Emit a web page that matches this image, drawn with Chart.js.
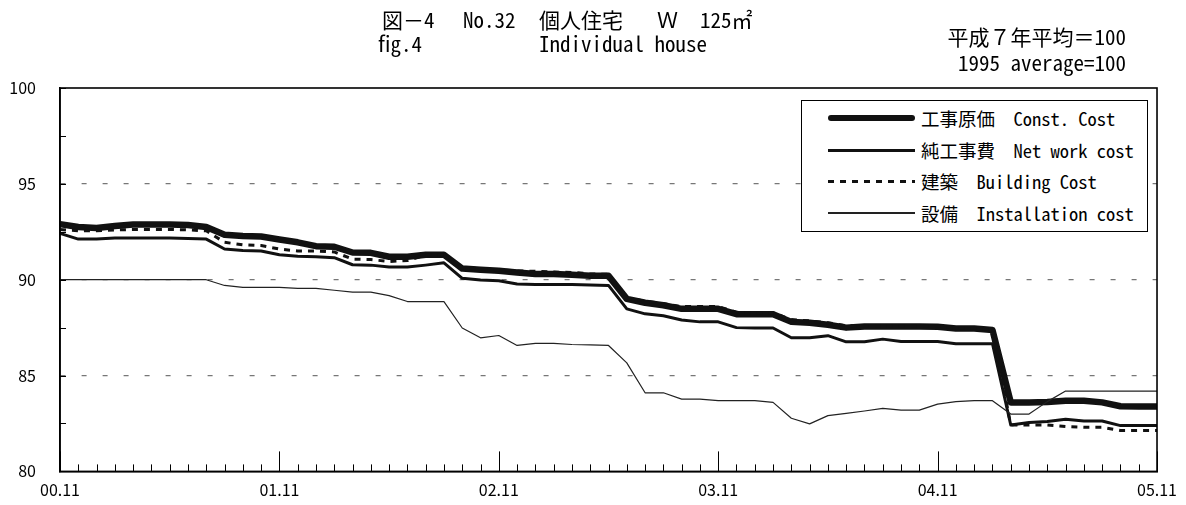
<!DOCTYPE html>
<html>
<head>
<meta charset="utf-8">
<script src="https://cdn.jsdelivr.net/npm/chart.js@4.4.1/dist/chart.umd.min.js"></script>
<style>
html,body{margin:0;padding:0;background:#fff;}
#wrap{position:relative;width:1186px;height:505px;overflow:hidden;background:#fff;}
#c{position:absolute;left:0;top:0;}
.t{position:absolute;font-family:"Noto Sans CJK JP",sans-serif;color:#000;white-space:pre;line-height:1;font-size:21px;}
.h{font-feature-settings:"hwid";}
#legend{position:absolute;left:801px;top:100px;width:347px;height:132px;border:1.5px solid #000;background:#fff;box-sizing:border-box;}
.row{position:absolute;left:0;height:20px;width:100%;}
.sample{position:absolute;left:26px;width:87px;top:50%;}
.ltxt{position:absolute;left:119px;top:50%;transform:translateY(-50%);font-family:"Noto Sans CJK JP",sans-serif;font-size:18.5px;line-height:1;white-space:pre;}
</style>
</head>
<body>
<div id="wrap">
<canvas id="c" width="1186" height="505"></canvas>
<div class="t" style="left:382px;top:9px;">図－<span class="h">4</span></div>
<div class="t h" style="left:463px;top:9px;">No.32</div>
<div class="t" style="left:539px;top:9px;">個人住宅</div>
<div class="t" style="left:657px;top:9px;">Ｗ</div>
<div class="t h" style="left:700px;top:9px;">125<span style="font-feature-settings:normal">㎡</span></div>
<div class="t h" style="left:378px;top:33px;">fig.4</div>
<div class="t h" style="left:539px;top:33px;">Individual house</div>
<div class="t" style="right:60px;top:26px;text-align:right;">平成７年平均＝<span class="h">100</span></div>
<div class="t h" style="right:60px;top:52px;text-align:right;">1995 average=100</div>
<div id="legend"></div>
</div>
<script>
// ---- data ----
const months = ['00.11','00.12','01.01','01.02','01.03','01.04','01.05','01.06','01.07','01.08','01.09','01.10',
  '01.11','01.12','02.01','02.02','02.03','02.04','02.05','02.06','02.07','02.08','02.09','02.10',
  '02.11','02.12','03.01','03.02','03.03','03.04','03.05','03.06','03.07','03.08','03.09','03.10',
  '03.11','03.12','04.01','04.02','04.03','04.04','04.05','04.06','04.07','04.08','04.09','04.10',
  '04.11','04.12','05.01','05.02','05.03','05.04','05.05','05.06','05.07','05.08','05.09','05.10','05.11'];
const tickLabels = ['00.11','01.11','02.11','03.11','04.11','05.11'];
const yTicks = [80, 85, 90, 95, 100];
const seriesNames = ['工事原価　Const. Cost','純工事費　Net work cost','建築　Building Cost','設備　Installation cost'];

const constCost = [92.9,92.75,92.7,92.8,92.88,92.88,92.88,92.85,92.75,92.35,92.28,92.25,
  92.1,91.95,91.75,91.72,91.42,91.4,91.2,91.2,91.3,91.3,90.58,90.52,
  90.47,90.38,90.3,90.3,90.26,90.2,90.2,89.0,88.8,88.67,88.48,88.48,
  88.48,88.2,88.2,88.2,87.8,87.75,87.65,87.5,87.56,87.56,87.56,87.56,
  87.55,87.45,87.45,87.38,83.6,83.6,83.62,83.69,83.69,83.6,83.4,83.38,83.38];
const netWorkCost = [92.42,92.12,92.12,92.18,92.18,92.18,92.18,92.15,92.12,91.6,91.52,91.5,
  91.3,91.22,91.2,91.15,90.78,90.76,90.66,90.66,90.76,90.88,90.07,89.98,
  89.95,89.78,89.75,89.75,89.75,89.72,89.7,88.48,88.22,88.12,87.9,87.8,
  87.8,87.5,87.48,87.48,86.97,86.97,87.08,86.76,86.76,86.9,86.78,86.78,
  86.78,86.66,86.66,86.66,82.42,82.55,82.6,82.72,82.63,82.63,82.39,82.39,82.39];
const buildingCost = [92.62,92.55,92.55,92.6,92.62,92.62,92.62,92.6,92.55,91.95,91.82,91.78,
  91.6,91.5,91.5,91.45,91.07,91.05,90.95,91.0,91.28,91.3,90.62,90.58,
  90.52,90.46,90.44,90.4,90.38,90.3,90.28,89.05,88.88,88.75,88.6,88.6,
  88.6,88.3,88.28,88.28,87.92,87.85,87.75,87.6,87.6,87.6,87.58,87.58,
  87.58,87.48,87.48,87.4,82.42,82.42,82.42,82.34,82.3,82.3,82.13,82.13,82.13];
const installationCost = [90.0,90.0,90.0,90.0,90.0,90.0,90.0,90.0,90.0,89.7,89.6,89.6,
  89.6,89.55,89.55,89.45,89.35,89.35,89.17,88.86,88.86,88.86,87.48,86.97,
  87.09,86.57,86.68,86.68,86.62,86.6,86.57,85.66,84.1,84.1,83.77,83.77,
  83.69,83.69,83.69,83.6,82.77,82.48,82.91,83.03,83.15,83.29,83.2,83.2,
  83.51,83.64,83.69,83.69,82.99,82.99,83.64,84.19,84.19,84.19,84.19,84.19,84.19];

// ---- styles ----
const styles = [
  {w:6.5, dash:[], order:4, color:'#111'},
  {w:3, dash:[], order:3, color:'#111'},
  {w:3, dash:[6,6], order:2, color:'#111'},
  {w:1.2, dash:[], order:1, color:'#222'}
];
const seriesData = [constCost, netWorkCost, buildingCost, installationCost];

const frame = {
  id: 'frame',
  afterDraw(chart) {
    const {ctx, chartArea: a, scales: {x, y}} = chart;
    ctx.save();
    ctx.strokeStyle = '#000';
    ctx.lineWidth = 1;
    ctx.beginPath();
    for (let i = 0; i < months.length; i++) {
      const px = Math.round(x.getPixelForValue(i)) + 0.5;
      const len = tickLabels.includes(months[i]) ? 20 : 7;
      ctx.moveTo(px, a.bottom);
      ctx.lineTo(px, a.bottom - len);
    }
    for (let v = y.min; v <= y.max; v += 2.5) {
      const py = Math.round(y.getPixelForValue(v)) + 0.5;
      ctx.moveTo(a.left, py);
      ctx.lineTo(a.left + 6, py);
    }
    ctx.stroke();
    ctx.lineWidth = 1.6;
    ctx.strokeRect(a.left, a.top, a.right - a.left, a.bottom - a.top);
    ctx.restore();
  }
};

Chart.defaults.font.family = '"Noto Sans CJK JP", sans-serif';
Chart.defaults.color = '#000';

new Chart(document.getElementById('c'), {
  type: 'line',
  data: {
    labels: months,
    datasets: seriesData.map((d, k) => ({
      label: seriesNames[k],
      data: d,
      borderColor: styles[k].color,
      borderWidth: styles[k].w,
      borderDash: styles[k].dash,
      order: styles[k].order,
      pointRadius: 0,
      tension: 0,
      fill: false,
      borderJoinStyle: 'round',
      borderCapStyle: 'butt'
    }))
  },
  options: {
    responsive: false,
    animation: false,
    devicePixelRatio: 1,
    layout: {padding: {top: 88, right: 23, left: 0, bottom: 0}},
    plugins: {legend: {display: false}, tooltip: {enabled: false}, title: {display: false}},
    scales: {
      x: {
        type: 'category',
        offset: false,
        grid: {display: false, drawTicks: false},
        border: {display: true, color: '#000', width: 1.6},
        ticks: {
          autoSkip: false, maxRotation: 0, minRotation: 0, padding: 9,
          font: {size: 16},
          callback: function(v) { const l = this.getLabelForValue(v); return tickLabels.includes(l) ? l : ''; }
        },
        afterFit: s => { s.height = 32; }
      },
      y: {
        min: 80, max: 100,
        grid: {
          drawTicks: false,
          color: c => (c.tick && (c.tick.value === 80 || c.tick.value === 100)) ? 'rgba(0,0,0,0)' : '#777',
          lineWidth: 1.2
        },
        border: {display: true, color: '#000', width: 1.6, dash: [5, 16]},
        afterBuildTicks: s => { s.ticks = yTicks.map(v => ({value: v})); },
        ticks: {padding: 24, font: {size: 16}, callback: v => String(v)},
        afterFit: s => { s.width = 60; }
      }
    }
  },
  plugins: [frame]
});

// ---- legend (built from series names and styles) ----
const lg = document.getElementById('legend');
const rowY = [17, 49, 80, 112];
seriesNames.forEach((name, k) => {
  const row = document.createElement('div');
  row.className = 'row';
  row.style.top = (rowY[k] - 10) + 'px';
  const s = document.createElement('div');
  s.className = 'sample';
  const st = styles[k];
  s.style.height = st.w + 'px';
  s.style.marginTop = (-st.w / 2) + 'px';
  if (st.dash.length) {
    s.style.background = `repeating-linear-gradient(to right, #111 0 ${st.dash[0]}px, transparent ${st.dash[0]}px ${st.dash[0] + st.dash[1]}px)`;
  } else {
    s.style.background = st.color;
    if (k === 0) s.style.borderRadius = '3px';
  }
  const t = document.createElement('div');
  t.className = 'ltxt';
  const parts = name.split('　');
  const jp = document.createElement('span');
  jp.textContent = parts[0] + '　';
  const en = document.createElement('span');
  en.className = 'h';
  en.textContent = parts[1];
  t.appendChild(jp);
  t.appendChild(en);
  row.appendChild(s);
  row.appendChild(t);
  lg.appendChild(row);
});
</script>
</body>
</html>
